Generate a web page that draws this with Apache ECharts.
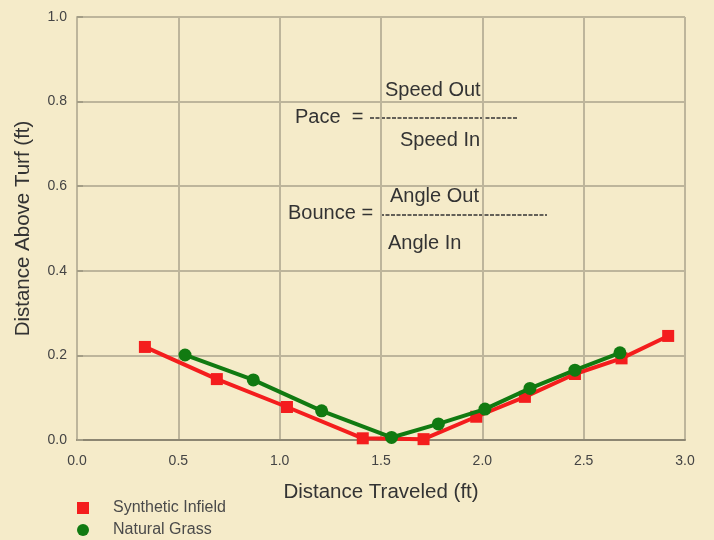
<!DOCTYPE html>
<html>
<head>
<meta charset="utf-8">
<script src="https://cdn.jsdelivr.net/npm/echarts@6/dist/echarts.min.js"></script>
<style>
  html, body { margin: 0; padding: 0; background: #f5ebc9; }
  #chart { width: 714px; height: 540px; }
</style>
</head>
<body>
<div id="chart"></div>
<script>
// values, in ft
const syntheticX = [0.335, 0.69, 1.036, 1.41, 1.71, 1.97, 2.21, 2.457, 2.687, 2.917]
const syntheticY = [0.220, 0.144, 0.078, 0.004, 0.002, 0.055, 0.102, 0.156, 0.193, 0.246]
const grassX = [0.533, 0.87, 1.207, 1.552, 1.783, 2.013, 2.235, 2.457, 2.679]
const grassY = [0.201, 0.142, 0.069, 0.006, 0.038, 0.073, 0.122, 0.165, 0.206]

const seriesNames = ['Synthetic Infield', 'Natural Grass']
const xTicks = [0, 0.5, 1, 1.5, 2, 2.5, 3]
const yTicks = [0, 0.2, 0.4, 0.6, 0.8, 1.0]

const font = '"Liberation Sans", Arial, sans-serif'
const textColor = '#333333'
const gridColor = '#bdb59b'

const chart = echarts.init(document.getElementById('chart'))

const pairs = (xs, ys) => xs.map((x, i) => [x, ys[i]])
const label = (text, left, top) => ({
  type: 'text', left, top,
  style: { text, fontSize: 20, fill: textColor, fontFamily: font }
})
const dashes = (x1, x2, y) => ({
  type: 'line',
  shape: { x1, y1: y, x2, y2: y },
  style: { stroke: '#333', lineWidth: 1.5, lineDash: [4, 1.5] }
})
// one legend per series so they stack in the tight bottom strip
const legendFor = (name, icon, top) => ({
  left: 77,
  top,
  padding: 0,
  itemWidth: 12,
  itemHeight: 12,
  textStyle: { fontSize: 16, color: '#4a4a4a', fontFamily: font, padding: [0, 0, 0, 19] },
  data: [{ name, icon }]
})

chart.setOption({
  backgroundColor: '#f5ebc9',
  animation: false,
  textStyle: { fontFamily: font },
  grid: { left: 77, right: 29, top: 17, bottom: 100 },
  xAxis: {
    type: 'value',
    min: xTicks[0],
    max: xTicks[xTicks.length - 1],
    interval: 0.5,
    name: 'Distance Traveled (ft)',
    nameLocation: 'middle',
    nameGap: 42,
    nameTextStyle: { fontSize: 20.5, color: textColor, fontFamily: font },
    axisLine: { lineStyle: { color: '#8c8672', width: 2 } },
    axisTick: { show: false },
    axisLabel: {
      fontSize: 14, color: '#444', margin: 14, fontFamily: font,
      formatter: v => v.toFixed(1)
    },
    splitLine: { lineStyle: { color: gridColor, width: 2 } }
  },
  yAxis: {
    type: 'value',
    min: yTicks[0],
    max: yTicks[yTicks.length - 1],
    interval: 0.2,
    name: 'Distance Above Turf (ft)',
    nameLocation: 'middle',
    nameGap: 43,
    nameTextStyle: { fontSize: 20.5, color: textColor, fontFamily: font },
    axisLine: { show: true, lineStyle: { color: gridColor, width: 2 } },
    axisTick: { show: true, inside: true, length: 6, lineStyle: { color: '#a39d86', width: 2 } },
    axisLabel: {
      fontSize: 14, color: '#444', margin: 10, fontFamily: font,
      formatter: v => v.toFixed(1)
    },
    splitLine: { lineStyle: { color: gridColor, width: 2 } }
  },
  legend: [
    legendFor(seriesNames[0], 'rect', 500),
    legendFor(seriesNames[1], 'circle', 522)
  ],
  graphic: [
    // right frame line
    { type: 'line', shape: { x1: 685, y1: 17, x2: 685, y2: 440 }, style: { stroke: '#8c8672', lineWidth: 2 } },
    label('Speed Out', 385, 80),
    label('Pace  =', 295, 107),
    dashes(370, 517, 118),
    label('Speed In', 400, 130),
    label('Angle Out', 390, 186),
    label('Bounce =', 288, 203),
    dashes(380, 547, 215),
    label('Angle In', 388, 233)
  ],
  series: [
    {
      name: seriesNames[0],
      type: 'line',
      data: pairs(syntheticX, syntheticY),
      symbol: 'rect',
      symbolSize: 12,
      itemStyle: { color: '#f41d1d' },
      lineStyle: { color: '#f41d1d', width: 4 },
      z: 3
    },
    {
      name: seriesNames[1],
      type: 'line',
      data: pairs(grassX, grassY),
      symbol: 'circle',
      symbolSize: 13,
      itemStyle: { color: '#117a11' },
      lineStyle: { color: '#117a11', width: 4 },
      z: 4
    }
  ]
})
</script>
</body>
</html>
